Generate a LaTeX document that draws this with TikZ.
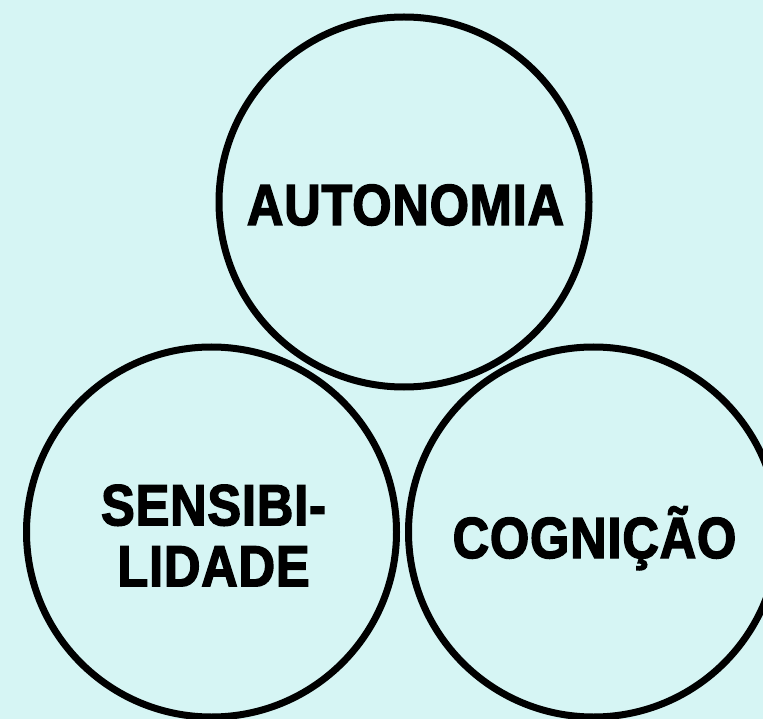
\documentclass[tikz,border=0pt]{standalone}
\usepackage{fontspec}
\newfontfamily\lblfont[FakeStretch=0.87,FakeBold=2.5,LetterSpace=1.5]{Liberation Sans}
\definecolor{bgcyan}{RGB}{214,245,244}
\begin{document}
\begin{tikzpicture}[x=1pt,y=-1pt,
  ring/.style={circle,draw=black,line width=7pt,minimum size=370pt,inner sep=0pt},
  word/.style={font=\lblfont\bfseries\fontsize{58}{61}\selectfont,text=black,inner sep=0pt,align=center}]
\fill[bgcyan] (0,0) rectangle (763,719);
\useasboundingbox (0,0) rectangle (763,719);
\node[ring] (top) at (404,202) {};
\node[ring] (left) at (211.5,532) {};
\node[ring] (right) at (593.5,532) {};
\node[word,anchor=base] (t1) at (405.5,225) {AUTONOMIA};
\node[word,anchor=center] (t2) at (213.5,535.5) {SENSIBI-\\LIDADE};
\node[word,anchor=base] (t3) at (594.5,558) {COGNIÇÃO};
\end{tikzpicture}
\end{document}
